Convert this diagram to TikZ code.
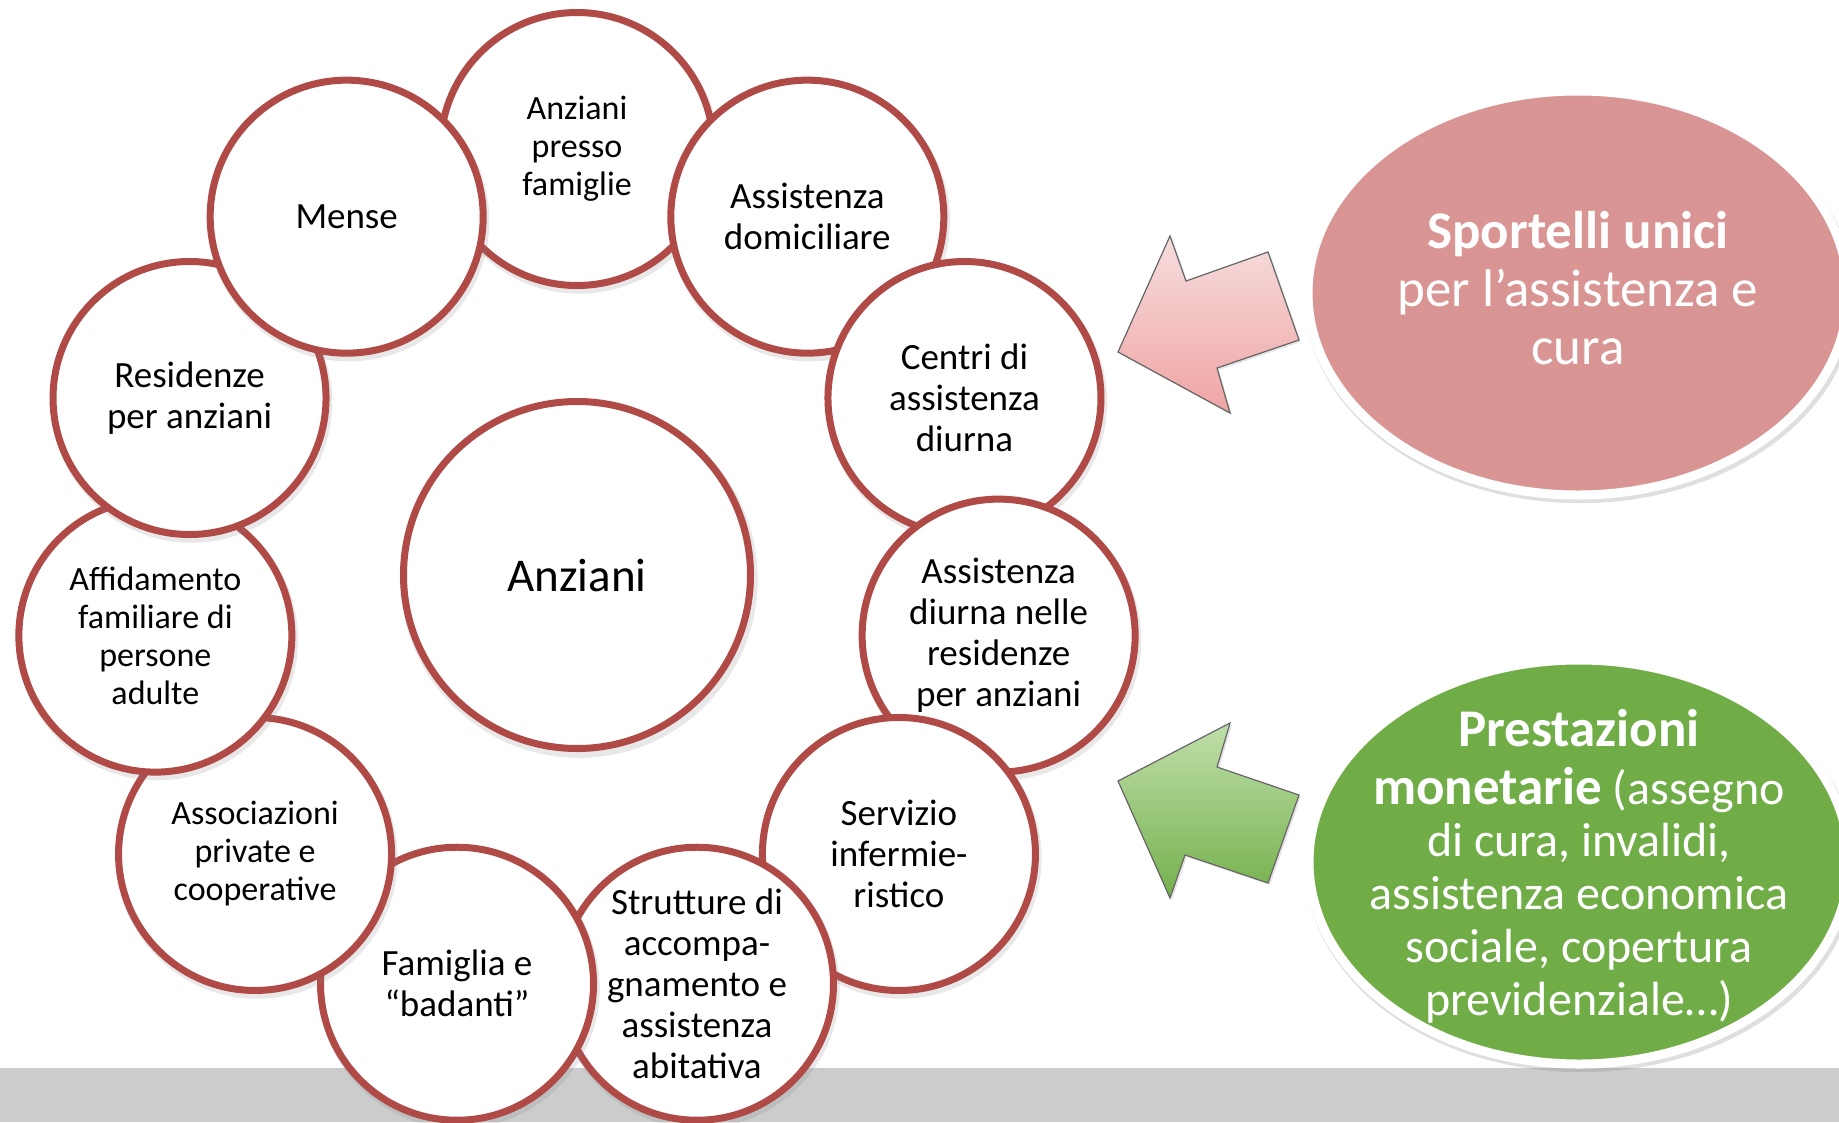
\documentclass[tikz,border=0pt]{standalone}
\usepackage{fontspec}
\setmainfont{Carlito}
\usetikzlibrary{shapes.geometric,shadows}

\definecolor{ringred}{RGB}{175,74,71}
\definecolor{sportrosa}{RGB}{217,149,148}
\definecolor{monetgreen}{RGB}{112,173,71}
\definecolor{bandgray}{RGB}{203,205,204}
\definecolor{rosalight}{RGB}{246,221,221}
\definecolor{rosadark}{RGB}{240,164,164}
\definecolor{greenlight}{RGB}{192,223,170}
\definecolor{greendark}{RGB}{116,176,76}

\tikzset{
  bubble/.style={circle, draw=ringred, line width=7pt, fill=white, minimum size=273pt,
    inner sep=0pt, align=center, font=\fontsize{37}{41}\selectfont,
    drop shadow={opacity=0.18, shadow xshift=2pt, shadow yshift=-4pt, shadow scale=1.03}},
  smalltext/.style={font=\fontsize{34}{38}\selectfont},
  pill/.style={ellipse, draw=white, line width=9pt, minimum width=540pt, minimum height=404pt,
    inner sep=0pt, drop shadow={opacity=0.25, shadow xshift=2pt, shadow yshift=-4pt, shadow scale=1.02}},
  pilltext/.style={text=white, align=center, inner sep=0pt},
  bigarrow/.style={draw=black!60, line width=1.2pt, line join=miter,
    drop shadow={opacity=0.2, shadow xshift=2pt, shadow yshift=-2pt}}
}

\begin{document}
\begin{tikzpicture}[x=1pt, y=-1pt]
  \useasboundingbox (0,0) rectangle (1839,1122);
  \fill[white] (0,0) rectangle (1839,1122);
  \fill[bandgray] (0,1068) rectangle (1839,1122);

  \node[bubble, minimum size=347pt, font=\fontsize{47}{52}\selectfont] (anziani) at (577,575) {Anziani};

  \node[bubble, smalltext] (presso) at ([shift={(90:426pt)}]anziani.center) {Anziani\\presso\\famiglie};
  \node[bubble] (domiciliare) at ([shift={(57.27:426pt)}]anziani.center) {Assistenza\\domiciliare};
  \node[bubble] (centri) at ([shift={(24.55:426pt)}]anziani.center) {Centri di\\assistenza\\diurna};
  \node[bubble] (diurna) at ([shift={(-8.18:426pt)}]anziani.center) {Assistenza\\diurna nelle\\residenze\\per anziani};
  \node[bubble] (servizio) at ([shift={(-40.91:426pt)}]anziani.center) {Servizio\\infermie-\\ristico};
  \node[bubble] (strutture) at ([shift={(-73.64:426pt)}]anziani.center) {Strutture di\\accompa-\\gnamento e\\assistenza\\abitativa};
  \node[bubble] (famiglia) at ([shift={(-106.36:426pt)}]anziani.center) {Famiglia e\\“badanti”};
  \node[bubble, smalltext] (associazioni) at ([shift={(-139.09:426pt)}]anziani.center) {Associazioni\\private e\\cooperative};
  \node[bubble, smalltext] (affidamento) at ([shift={(-171.82:426pt)}]anziani.center) {Affidamento\\familiare di\\persone\\adulte};
  \node[bubble] (residenze) at ([shift={(155.45:426pt)}]anziani.center) {Residenze\\per anziani};
  \node[bubble] (mense) at ([shift={(122.73:426pt)}]anziani.center) {Mense};

  \node[pill, fill=sportrosa, label={[pilltext, yshift=5pt, font=\fontsize{53}{58}\selectfont]center:{\textbf{Sportelli unici}\\per l’assistenza e\\cura}}] (sportelli) at (1578,293) {};
  \node[pill, fill=monetgreen, label={[pilltext, yshift=-4pt, font=\fontsize{48}{52.8}\selectfont]center:{{\fontsize{53}{58}\selectfont\bfseries Prestazioni}\\[5pt]{\fontsize{53}{58}\selectfont\bfseries monetarie} (assegno\\di cura, invalidi,\\assistenza economica\\sociale, copertura\\previdenziale…)}}] (prestazioni) at (1579,862) {};

  \draw[bigarrow, top color=rosalight, bottom color=rosadark]
    (1118,352) -- (1170,236) -- (1186,281) -- (1268,252) -- (1299,340) -- (1217,368) -- (1230,413) -- cycle;
  \draw[bigarrow, top color=greenlight, bottom color=greendark]
    (1118,781) -- (1230,723) -- (1217,767) -- (1299,795) -- (1268,883) -- (1185,855) -- (1170,898) -- cycle;
\end{tikzpicture}
\end{document}
